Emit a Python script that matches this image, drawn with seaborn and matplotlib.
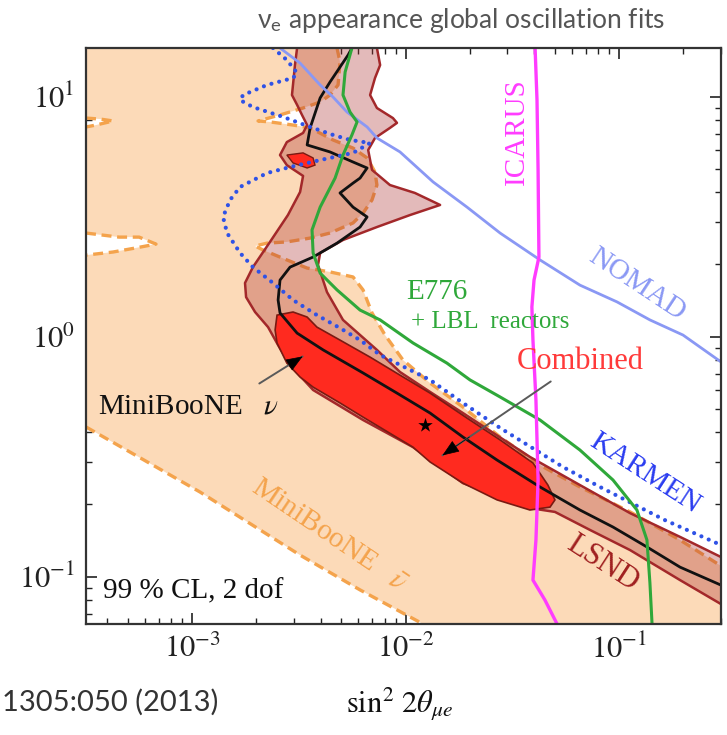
import numpy as np
import pandas as pd
import matplotlib
matplotlib.use("Agg")
import matplotlib.pyplot as plt
import seaborn as sns

sns.set_theme(style="ticks")
plt.rcParams["font.family"] = ["Liberation Serif", "DejaVu Serif"]
plt.rcParams["mathtext.fontset"] = "stix"

# ---------------- data (log10 sin^2 2theta, log10 dm^2) ----------------
xlim_log = (-3.497, -0.522)
ylim_log = (-1.197, 1.203)

# MiniBooNE anti-nu allowed region boundary
mbbar_main_x = [-2.321, -2.307, -2.316, -2.354, -2.400, -2.480, -2.588, -2.691, -2.635, -2.527,
                -2.447, -2.340, -2.246, -2.180, -2.143, -2.134, -2.157, -2.199, -2.246, -2.354,
                -2.447, -2.556, -2.649, -2.705, -2.667, -2.556, -2.461, -2.354, -2.246, -2.199,
                -2.157, -2.096, -2.012, -1.885, -1.731, -1.557, -1.370, -1.183, -0.948, -0.714, -0.522]
mbbar_main_y = [1.203, 1.145, 1.049, 1.007, 0.978, 0.953, 0.924, 0.899, 0.895, 0.882,
                0.870, 0.820, 0.786, 0.745, 0.686, 0.632, 0.570, 0.515, 0.474, 0.432,
                0.411, 0.395, 0.390, 0.378, 0.361, 0.320, 0.286, 0.270, 0.249, 0.195,
                0.099, 0.007, -0.097, -0.193, -0.293, -0.418, -0.535, -0.626, -0.730, -0.847, -0.955]
mbbar_low_x = [-3.497, -2.963, -2.494, -2.213, -1.918]
mbbar_low_y = [-0.376, -0.647, -0.910, -1.055, -1.197]
mbbar_slivA_x = [-3.497, -3.431, -3.370, -3.450, -3.497]
mbbar_slivA_y = [0.911, 0.907, 0.899, 0.882, 0.874]
mbbar_slivB_x = [-3.497, -3.342, -3.248, -3.169, -3.263, -3.370, -3.497]
mbbar_slivB_y = [0.432, 0.415, 0.415, 0.386, 0.370, 0.353, 0.340]

# LSND region (left/lower side top->bottom, right/upper side bottom->top)
lsnd_left_x = [-2.508, -2.518, -2.532, -2.508, -2.485, -2.461, -2.480, -2.556, -2.588, -2.556,
               -2.480, -2.494, -2.551, -2.635, -2.715, -2.752, -2.747, -2.705, -2.644, -2.597,
               -2.541, -2.433, -2.199, -1.965, -1.731, -1.417, -1.300, -1.136, -0.948, -0.714, -0.522]
lsnd_left_y = [1.203, 1.132, 1.007, 0.966, 0.924, 0.882, 0.849, 0.811, 0.757, 0.715,
               0.670, 0.603, 0.507, 0.395, 0.290, 0.224, 0.165, 0.103, 0.040, -0.035,
               -0.118, -0.222, -0.347, -0.460, -0.610, -0.714, -0.730, -0.805, -0.889, -1.014, -1.114]
lsnd_right_x = [-0.522, -0.714, -0.948, -1.183, -1.417, -1.731, -1.885, -2.026, -2.134, -2.293,
                -2.368, -2.410, -2.400, -2.293, -2.134, -1.979, -1.838, -1.956, -2.073, -2.157,
                -2.175, -2.143, -2.073, -2.040, -2.059, -2.134, -2.166, -2.143, -2.119, -2.134]
lsnd_right_y = [-0.918, -0.834, -0.735, -0.618, -0.501, -0.318, -0.230, -0.147, -0.055, 0.070,
                0.186, 0.299, 0.349, 0.403, 0.457, 0.507, 0.549, 0.599, 0.632, 0.695,
                0.778, 0.828, 0.870, 0.891, 0.911, 0.953, 1.007, 1.078, 1.132, 1.203]

# combined fit: small island and main region
island_x = [-2.556, -2.480, -2.433, -2.424, -2.461, -2.527]
island_y = [0.757, 0.766, 0.745, 0.715, 0.703, 0.724]
comb_x = [-2.602, -2.527, -2.461, -2.415, -2.307, -2.166, -2.026, -1.885, -1.712, -1.557,
          -1.403, -1.333, -1.300, -1.323, -1.417, -1.571, -1.731, -1.885, -1.965, -2.199,
          -2.307, -2.433, -2.494, -2.556, -2.602, -2.611]
comb_y = [0.090, 0.103, 0.082, 0.040, -0.014, -0.085, -0.160, -0.235, -0.339, -0.430,
          -0.526, -0.618, -0.680, -0.710, -0.722, -0.680, -0.610, -0.522, -0.460, -0.335,
          -0.276, -0.210, -0.168, -0.110, -0.026, 0.028]
bestfit_x = [-1.909]
bestfit_y = [-0.368]

# MiniBooNE nu contour (black)
mbnu_x = [-2.251, -2.269, -2.354, -2.400, -2.447, -2.461, -2.354, -2.246, -2.180, -2.213,
          -2.246, -2.307, -2.246, -2.180, -2.213, -2.321, -2.433, -2.541, -2.588, -2.597,
          -2.588, -2.508, -2.386, -2.199, -2.040, -1.885, -1.731, -1.571, -1.370, -1.183,
          -1.028, -0.869, -0.714, -0.522]
mbnu_y = [1.203, 1.174, 1.061, 0.995, 0.870, 0.799, 0.770, 0.728, 0.703, 0.661,
          0.640, 0.599, 0.540, 0.499, 0.457, 0.390, 0.332, 0.290, 0.236, 0.153,
          0.099, 0.015, -0.055, -0.151, -0.235, -0.318, -0.418, -0.514, -0.626, -0.722,
          -0.793, -0.876, -0.960, -1.035]

karmen_x = [-2.621, -2.556, -2.508, -2.527, -2.649, -2.761, -2.775, -2.715, -2.574, -2.447,
            -2.340, -2.260, -2.166, -2.246, -2.400, -2.541, -2.649, -2.775, -2.822, -2.855,
            -2.836, -2.775, -2.715, -2.621, -2.527, -2.415, -2.307, -2.213, -2.119, -1.885,
            -1.731, -1.557, -1.262, -1.089, -0.785, -0.522]
karmen_y = [1.203, 1.153, 1.099, 1.078, 1.049, 1.007, 0.986, 0.957, 0.916, 0.874,
            0.841, 0.820, 0.807, 0.766, 0.736, 0.707, 0.682, 0.624, 0.570, 0.499,
            0.432, 0.349, 0.290, 0.224, 0.153, 0.090, 0.036, -0.014, -0.076, -0.180,
            -0.276, -0.380, -0.543, -0.626, -0.764, -0.868]

nomad_x = [-2.588, -2.494, -2.400, -2.340, -2.274, -2.180, -2.134, -2.026, -1.871, -1.712,
           -1.557, -1.370, -1.183, -1.009, -0.855, -0.700, -0.522]
nomad_y = [1.203, 1.140, 1.049, 0.999, 0.936, 0.874, 0.828, 0.770, 0.645, 0.540,
           0.432, 0.320, 0.215, 0.145, 0.070, 0.007, -0.105]

e776_x = [-2.251, -2.283, -2.293, -2.260, -2.227, -2.251, -2.293, -2.330, -2.400, -2.438,
          -2.433, -2.400, -2.321, -2.213, -2.119, -1.965, -1.806, -1.698, -1.557, -1.370,
          -1.183, -1.028, -0.916, -0.869, -0.855, -0.845]
e776_y = [1.203, 1.103, 1.007, 0.936, 0.895, 0.841, 0.757, 0.661, 0.540, 0.445,
          0.349, 0.265, 0.195, 0.111, 0.070, -0.026, -0.110, -0.180, -0.251, -0.347,
          -0.472, -0.597, -0.722, -0.847, -1.026, -1.197]

icarus_x = [-1.393, -1.384, -1.379, -1.375, -1.398, -1.408, -1.403, -1.389, -1.379, -1.389,
            -1.403, -1.347, -1.290]
icarus_y = [1.203, 0.986, 0.695, 0.332, 0.236, 0.124, -0.014, -0.264, -0.597, -0.847,
            -1.014, -1.097, -1.197]

# ---------------- colours ----------------
PEACH = "#FCDAB8"
ORANGE = "#F4A34C"
LSND_EDGE = "#A3282A"
LSND_FILL = (0.67, 0.18, 0.18, 0.33)
RED = "#FF2A1F"
KARMEN_C = "#2F52E6"
NOMAD_C = "#8A98F4"
GREEN = "#2FA83A"
MAGENTA = "#FF3CFF"

# ---------------- figure ----------------
fig = plt.figure(figsize=(7.27, 7.35), dpi=100)
ax = fig.add_axes([86 / 727, 1 - 624 / 735, 635 / 727, 576 / 735])
ax.set_xscale("log")
ax.set_yscale("log")
ax.set_xlim(10 ** xlim_log[0], 10 ** xlim_log[1])
ax.set_ylim(10 ** ylim_log[0], 10 ** ylim_log[1])
ax.set_facecolor("white")


def pw(v):
    return 10 ** np.asarray(v, dtype=float)


def curve(lx, ly, **kw):
    df = pd.DataFrame({"s2t": pw(lx), "dm2": pw(ly)})
    sns.lineplot(data=df, x="s2t", y="dm2", sort=False, estimator=None, ax=ax, **kw)


# MiniBooNE anti-nu region
x0, x1 = xlim_log
y0, y1 = ylim_log
poly_x = ([x0] + mbbar_main_x + [x1] + mbbar_low_x[::-1] + mbbar_slivB_x[::-1]
          + mbbar_slivA_x[::-1] + [x0])
poly_y = ([y1] + mbbar_main_y + [y0] + mbbar_low_y[::-1] + mbbar_slivB_y[::-1]
          + mbbar_slivA_y[::-1] + [y1])
ax.fill(pw(poly_x), pw(poly_y), color=PEACH, lw=0, zorder=1)
dash = dict(color=ORANGE, lw=2.4, linestyle=(0, (3.0, 1.7)), zorder=2)
curve(mbbar_main_x, mbbar_main_y, **dash)
curve(mbbar_low_x, mbbar_low_y, **dash)
curve(mbbar_slivA_x, mbbar_slivA_y, **dash)
curve(mbbar_slivB_x, mbbar_slivB_y, **dash)

# LSND
ax.fill(pw(lsnd_left_x + lsnd_right_x), pw(lsnd_left_y + lsnd_right_y),
        facecolor=LSND_FILL, lw=0, zorder=3)
curve(lsnd_left_x, lsnd_left_y, color=LSND_EDGE, lw=1.8, zorder=3.2)
curve(lsnd_right_x, lsnd_right_y, color=LSND_EDGE, lw=1.8, zorder=3.2)

# Combined
ax.fill(pw(comb_x), pw(comb_y), facecolor=RED, edgecolor="#7A1A12", lw=1.2, zorder=4)
ax.fill(pw(island_x), pw(island_y), facecolor=RED, edgecolor="#7A1A12", lw=1.0, zorder=4)

# exclusion / contour lines
curve(mbnu_x, mbnu_y, color="#111111", lw=2.0, zorder=5)
curve(nomad_x, nomad_y, color=NOMAD_C, lw=2.0, zorder=5)
curve(karmen_x, karmen_y, color=KARMEN_C, lw=3.0, linestyle=(0, (0.01, 1.9)),
      dash_capstyle="round", zorder=5.5)
curve(e776_x, e776_y, color=GREEN, lw=2.2, zorder=5.6)
curve(icarus_x, icarus_y, color=MAGENTA, lw=2.4, zorder=6)

# best fit star
ax.scatter(pw(bestfit_x), pw(bestfit_y), marker="*", s=120, color="black", zorder=7, lw=0)


# arrows (MiniBooNE nu, Combined)
def arrow(tail, tip):
    t = np.asarray(tail, float)
    h = np.asarray(tip, float)
    near = h + 0.28 * (t - h)
    ax.annotate("", xy=tuple(pw(h)), xytext=tuple(pw(t)),
                arrowprops=dict(arrowstyle="-", color="#5a5a5a", lw=1.4), zorder=7)
    ax.annotate("", xy=tuple(pw(h)), xytext=tuple(pw(near)),
                arrowprops=dict(arrowstyle="-|>,head_length=0.9,head_width=0.35",
                                color="black", lw=0.5), zorder=7)


arrow((-2.696, -0.201), (-2.471, -0.076))
arrow((-1.309, -0.180), (-1.838, -0.501))

# labels inside the plot
serif = ["Liberation Serif", "DejaVu Serif"]
T = ax.transAxes
ax.text(0.679, 0.854, "ICARUS", transform=T, rotation=90, color=MAGENTA, fontsize=21,
        ha="center", va="center", family=serif, zorder=8)
ax.text(0.868, 0.589, "NOMAD", transform=T, rotation=-33.5, color=NOMAD_C, fontsize=21,
        ha="center", va="center", family=serif, zorder=8)
ax.text(0.553, 0.576, "E776", transform=T, color=GREEN, fontsize=21,
        ha="center", va="center", family=serif, zorder=8)
ax.text(0.636, 0.524, "+ LBL  reactors", transform=T, color=GREEN, fontsize=18,
        ha="center", va="center", family=serif, zorder=8)
ax.text(0.778, 0.455, "Combined", transform=T, color="#FF3A3A", fontsize=22,
        ha="center", va="center", family=serif, zorder=8)
ax.text(0.880, 0.262, "KARMEN", transform=T, rotation=-33, color="#2A3CF0", fontsize=21,
        ha="center", va="center", family=serif, zorder=8)
ax.text(0.814, 0.106, "LSND", transform=T, rotation=-33, color="#A02020", fontsize=22,
        ha="center", va="center", family=serif, zorder=8)
ax.text(0.019, 0.378, r"MiniBooNE   $\nu$", transform=T, color="#111111", fontsize=21,
        ha="left", va="center", family=serif, zorder=8)
ax.text(0.384, 0.155, r"MiniBooNE   $\bar{\nu}$", transform=T, rotation=-34, color=ORANGE,
        fontsize=21, ha="center", va="center", family=serif, zorder=8)
ax.text(0.027, 0.057, "99 % CL, 2 dof", transform=T, color="#111111", fontsize=21,
        ha="left", va="center", family=serif, zorder=8)

# axes styling
for s in ax.spines.values():
    s.set_color("#333333")
    s.set_linewidth(1.6)
    s.set_zorder(9)
ax.tick_params(which="both", direction="in", top=True, right=True, colors="#222222",
               labelfontfamily="STIXGeneral", labelsize=22)
ax.tick_params(which="major", length=8, width=1.2, pad=8)
ax.tick_params(which="minor", length=4, width=1.0)
ax.set_xlabel("")
ax.set_ylabel("")

# title, axis label, citation
fig.text(0.634, 0.972, r"ν$_\mathregular{e}$ appearance global oscillation fits",
         family=["Lato", "DejaVu Sans"], fontsize=19, color="#555555", ha="center", va="center")
fig.text(0.550, 0.041, r"$\sin^2\,2\theta_{\mu e}$", fontsize=22, ha="center", va="center",
         color="#111111")
fig.text(0.003, 0.044, "1305:050 (2013)", family=["Lato", "DejaVu Sans"], fontsize=21,
         color="#333333", ha="left", va="center")

fig.savefig("out.png", dpi=100)
